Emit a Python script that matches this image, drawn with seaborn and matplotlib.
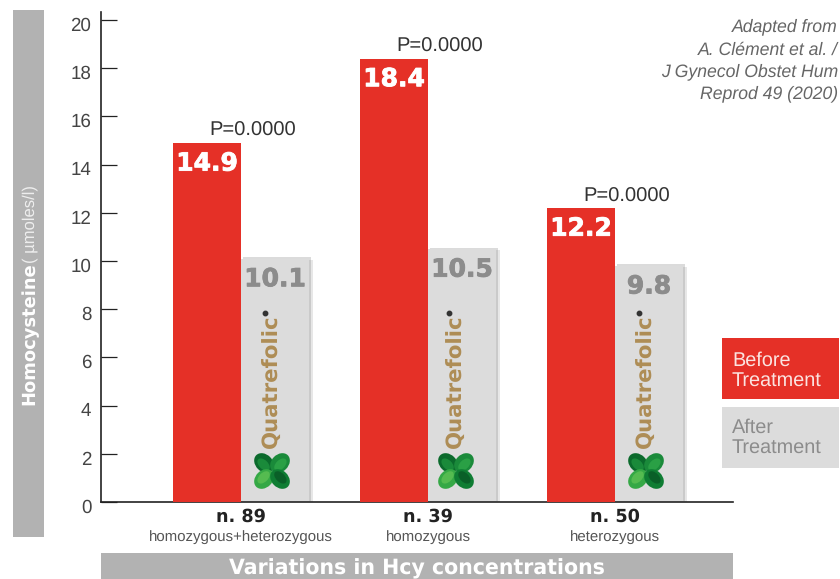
#!/usr/bin/env python3
# coding=utf-8
import matplotlib
matplotlib.use('Agg')
import matplotlib.pyplot as plt
import matplotlib.patheffects as pe
from matplotlib.patches import Ellipse, Rectangle
from matplotlib.transforms import ScaledTranslation
import pandas as pd
import seaborn as sns

groups = ['n. 89', 'n. 39', 'n. 50']
genotypes = ['homozygous+heterozygous', 'homozygous', 'heterozygous']
before = [14.9, 18.4, 12.2]
after = [10.1, 10.5, 9.8]
p_values = ['P=0.0000', 'P=0.0000', 'P=0.0000']
y_ticks = [0, 2, 4, 6, 8, 10, 12, 14, 16, 18, 20]
source_lines = ['Adapted from', 'A. Clément et al. /', 'J Gynecol Obstet Hum', 'Reprod 49 (2020)']

RED = '#e53027'
LIGHT = '#dcdcdc'
BAND = '#b2b2b2'
W, H = 840, 579

df = pd.DataFrame({
    'group': groups * 2,
    'value': before + after,
    'phase': ['Before'] * 3 + ['After'] * 3,
})

sns.set_theme(style='white')
plt.rcParams['font.family'] = ['Liberation Sans', 'DejaVu Sans']
plt.rcParams['text.hinting'] = 'no_hinting'

fig = plt.figure(figsize=(W / 100, H / 100), dpi=100)
# axes box in pixels: x 101..733, y 12..502
ax = fig.add_axes([101 / W, 1 - 502 / H, 632 / W, 490 / H])

sns.barplot(data=df, x='group', y='value', hue='phase', order=groups,
            hue_order=['Before', 'After'], palette=[RED, LIGHT],
            width=0.727, gap=0, saturation=1, legend=False, ax=ax, linewidth=0)

ax.set_xlim(-0.749, 2.631)
ax.set_ylim(0, 20.33)
ax.set_xlabel('')
ax.set_ylabel('')
ax.set_yticks(y_ticks)
ax.tick_params(axis='y', direction='in', length=11.5, width=0.9, color='#222222',
               labelsize=13.5, labelcolor='#444444', pad=7, left=True)
# tick numbers sit a little under their ticks in the original
for lab in ax.get_yticklabels():
    lab.set_transform(lab.get_transform() + ScaledTranslation(0, -4 / 100, fig.dpi_scale_trans))
ax.set_xticks(range(3))
ax.set_xticklabels(groups, fontfamily='DejaVu Sans', fontweight='bold', fontsize=12.7, color='#222222')
ax.tick_params(axis='x', length=0, pad=4.5)
for s in ['top', 'right']:
    ax.spines[s].set_visible(False)
for s in ['left', 'bottom']:
    ax.spines[s].set_color('#222222')
    ax.spines[s].set_linewidth(1.2)

# red bars come first, then the grey ones
bars = list(ax.patches)[:6]
shadow = [pe.SimplePatchShadow(offset=(3, -1), shadow_rgbFace='#888888', alpha=0.2),
          pe.SimplePatchShadow(offset=(1.5, 1), shadow_rgbFace='#888888', alpha=0.3),
          pe.Normal()]
for b in bars[:3]:
    b.set_zorder(3)
for b in bars[3:]:
    b.set_zorder(2)
    b.set_path_effects(shadow)

heavy_white = [pe.withStroke(linewidth=0.6, foreground='white')]
heavy_grey = [pe.withStroke(linewidth=0.6, foreground='#8c8c8c')]
for i in range(3):
    r = bars[i]
    g = bars[i + 3]
    rx = r.get_x() + r.get_width() / 2
    gx = g.get_x() + g.get_width() / 2
    ax.annotate(f'{before[i]}', (rx, before[i]), xytext=(0, -15), textcoords='offset points',
                ha='center', va='center', color='white', fontsize=18, fontweight='bold',
                fontfamily='DejaVu Sans', zorder=5, path_effects=heavy_white)
    ax.annotate(f'{after[i]}', (gx, after[i]), xytext=(0, -15), textcoords='offset points',
                ha='center', va='center', color='#8c8c8c', fontsize=18, fontweight='bold',
                fontfamily='DejaVu Sans', zorder=5, path_effects=heavy_grey)
    ax.annotate(p_values[i], (rx, before[i]), xytext=(33, 8.5), textcoords='offset points',
                ha='center', va='center', color='#333333', fontsize=14.5, zorder=5)
    ax.annotate(genotypes[i], (i, 0), xytext=(0, -25.5), textcoords='offset points',
                ha='center', va='center', color='#555555', fontsize=10.8, annotation_clip=False)

# overlay in pixel coordinates for the bands, key and logos
ov = fig.add_axes([0, 0, 1, 1])
ov.set_xlim(0, W)
ov.set_ylim(H, 0)
ov.axis('off')
ov.patch.set_alpha(0)

ov.add_patch(Rectangle((13, 10), 31, 527, color=BAND, lw=0))
ov.add_patch(Rectangle((101, 553), 632, 26, color=BAND, lw=0))
ov.text(30, 405, 'Homocysteine', rotation=90, ha='center', va='bottom', color='white',
        fontsize=12.9, fontweight='bold', fontfamily='DejaVu Sans')
ov.text(30, 263, '( µmoles/l)', rotation=90, ha='center', va='bottom', color='#eeeeee', fontsize=12)
ov.text(417, 569, 'Variations in Hcy concentrations', ha='center', va='center', color='white',
        fontsize=14.8, fontweight='bold', fontfamily='DejaVu Sans')

ov.add_patch(Rectangle((722, 338), 117, 61, color=RED, lw=0))
ov.add_patch(Rectangle((722, 407), 117, 61, color=LIGHT, lw=0))
ov.text(732, 371, 'Before\nTreatment', ha='left', va='center', color='#fbe3e0', fontsize=14.3, linespacing=1.1)
ov.text(732, 438, 'After\nTreatment', ha='left', va='center', color='#8c8c8c', fontsize=14.3, linespacing=1.1)

for line, y in zip(source_lines, [27, 50, 72, 94]):
    ov.text(838, y, line, ha='right', va='center', style='italic', color='#666666', fontsize=12.7)

# dx, dy, direction of the leaf, two shades
LEAVES = [(-8, -8, 45, '#0b6a2c', '#1a8a3a'), (8, -8, -45, '#1a8a3a', '#2aa045'),
          (-8, 8, -45, '#35a845', '#55bb50'), (8, 8, 45, '#0f7d33', '#0a5f28')]
for cx in [272, 456, 646]:
    ov.text(cx, 448, 'Quatrefolic', rotation=90, ha='center', va='bottom', color='#ae8d55',
            fontsize=15.3, fontweight='bold', fontfamily='DejaVu Sans')
    ov.plot([cx - 7], [313], 'o', color='#333333', ms=3.2)
    for dx, dy, ang, c1, c2 in LEAVES:
        ov.add_patch(Ellipse((cx + dx, 471 + dy), 22, 17, angle=ang, color=c1, lw=0))
        ov.add_patch(Ellipse((cx + dx * 1.05, 471 + dy * 0.8), 15, 9, angle=ang, color=c2, lw=0))

fig.savefig('out.png', dpi=100)
